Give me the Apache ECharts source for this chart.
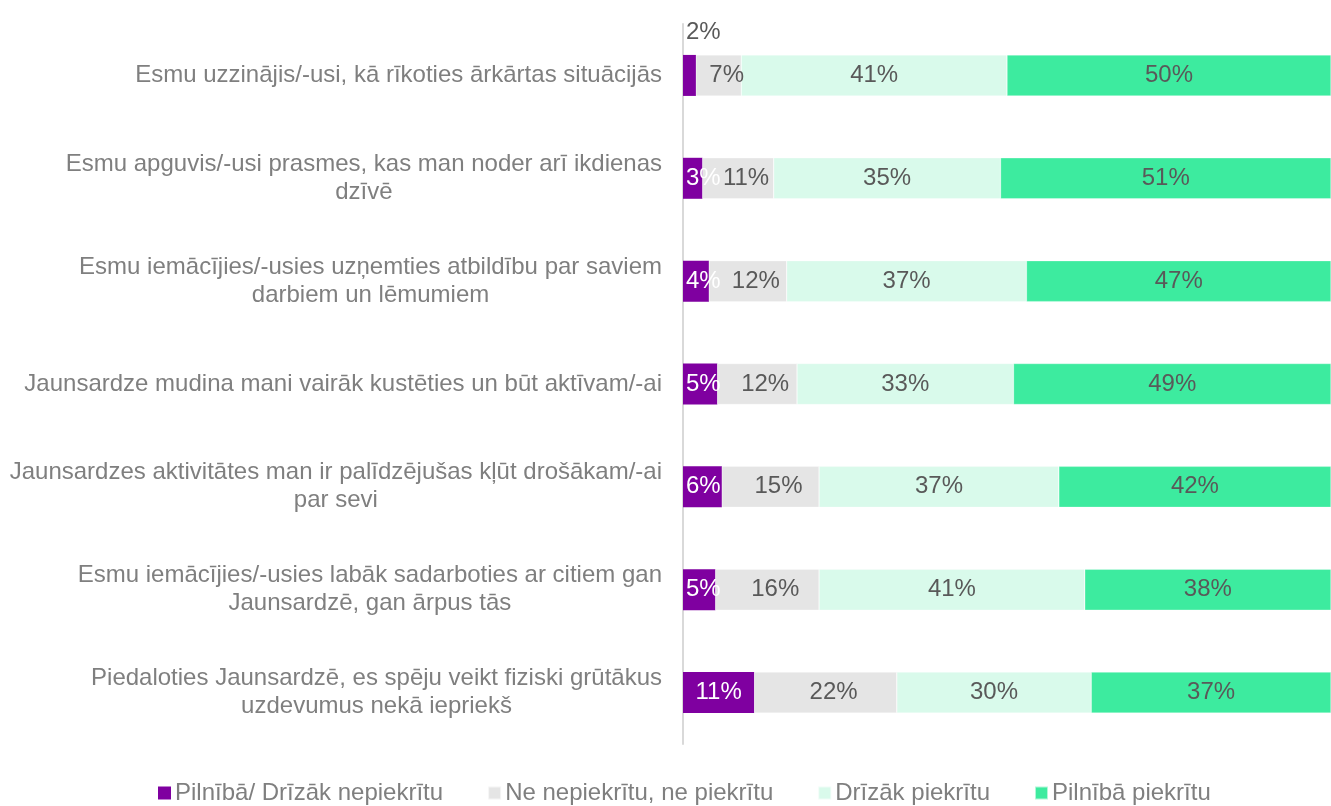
<!DOCTYPE html>
<html>
<head>
<meta charset="utf-8">
<script src="https://cdn.jsdelivr.net/npm/echarts@6/dist/echarts.min.js"></script>
<style>
  html, body { margin: 0; padding: 0; background: #fff; }
  #chart { width: 1331px; height: 806px; }
</style>
</head>
<body>
<div id="chart"></div>
<script>
// Statements, top to bottom
const categories = [
    'Esmu uzzinājis/-usi, kā rīkoties ārkārtas situācijās',
    'Esmu apguvis/-usi prasmes, kas man noder arī ikdienas\ndzīvē',
    'Esmu iemācījies/-usies uzņemties atbildību par saviem\ndarbiem un lēmumiem',
    'Jaunsardze mudina mani vairāk kustēties un būt aktīvam/-ai',
    'Jaunsardzes aktivitātes man ir palīdzējušas kļūt drošākam/-ai\npar sevi',
    'Esmu iemācījies/-usies labāk sadarboties ar citiem gan\nJaunsardzē, gan ārpus tās',
    'Piedaloties Jaunsardzē, es spēju veikt fiziski grūtākus\nuzdevumus nekā iepriekš'
];

const seriesNames = ['Pilnībā/ Drīzāk nepiekrītu', 'Ne nepiekrītu, ne piekrītu', 'Drīzāk piekrītu', 'Pilnībā piekrītu'];
// shares in %, labels show them rounded
const disagree = [2, 3, 4, 5.3, 6, 5, 11];
const neutral = [7, 11, 12, 12.3, 15, 16, 22];
const ratherAgree = [41, 35, 37, 33.4, 37, 41, 30];
const fullyAgree = [50, 51, 47, 49, 42, 38, 37];

const COLORS = ['#7f00a0', '#e5e5e5', '#d9faeb', '#3deb9f'];
const FONT = '"Liberation Sans", Arial, sans-serif';
const FS = 24;

const chart = echarts.init(document.getElementById('chart'));

/**
 * Builds one stacked bar series.
 */
const makeSeries = (name, values, idx) => ({
    name, type: 'bar', stack: 'total', barWidth: 41,
    itemStyle: { color: COLORS[idx], borderColor: 'rgba(255,255,255,0.6)', borderWidth: idx ? 0.5 : 0 },
    label: {
        show: true, position: 'inside', formatter: (p) => Math.round(p.value) + '%',
        offset: idx === 1 ? [8, 0] : [0, 0],
        color: idx === 0 ? '#ffffff' : '#595959', fontSize: FS, fontFamily: FONT
    },
    emphasis: { disabled: true },
    data: values.map((v, i) => {
        // the small 2% in the first row sits above its bar
        if (idx === 0 && i === 0) {
            return { value: v, label: { position: [3, -35], color: '#595959' } };
        }
        if (idx === 0 && v < 10) {
            return { value: v, label: { position: 'insideLeft', distance: 3 } };
        }
        return v;
    })
});

chart.setOption({
    animation: false,
    textStyle: { fontFamily: FONT },
    grid: { left: 683, right: 0, top: 24, bottom: 62, containLabel: false },
    legend: {
        top: 776, left: 153, itemWidth: 13, itemHeight: 13, itemGap: 44,
        icon: 'rect', textStyle: { color: '#7f7f7f', fontSize: FS, fontFamily: FONT, padding: [0, 0, 0, -1] },
        data: seriesNames
    },
    xAxis: {
        type: 'value', min: 0, max: 100, show: false
    },
    yAxis: {
        type: 'category', inverse: true, data: categories,
        axisLine: { show: true, lineStyle: { color: '#d9d9d9', width: 2 } },
        axisTick: { show: false },
        axisLabel: {
            margin: 21, color: '#7f7f7f', fontSize: FS, fontFamily: FONT, lineHeight: 28,
            formatter: (v) => v.split('\n').map(s => '{c|' + s + '}').join('\n'),
            rich: { c: { align: 'center', color: '#7f7f7f', fontSize: FS, fontFamily: FONT, lineHeight: 28 } }
        }
    },
    series: [
        makeSeries(seriesNames[0], disagree, 0),
        makeSeries(seriesNames[1], neutral, 1),
        makeSeries(seriesNames[2], ratherAgree, 2),
        makeSeries(seriesNames[3], fullyAgree, 3)
    ]
});
</script>
</body>
</html>
